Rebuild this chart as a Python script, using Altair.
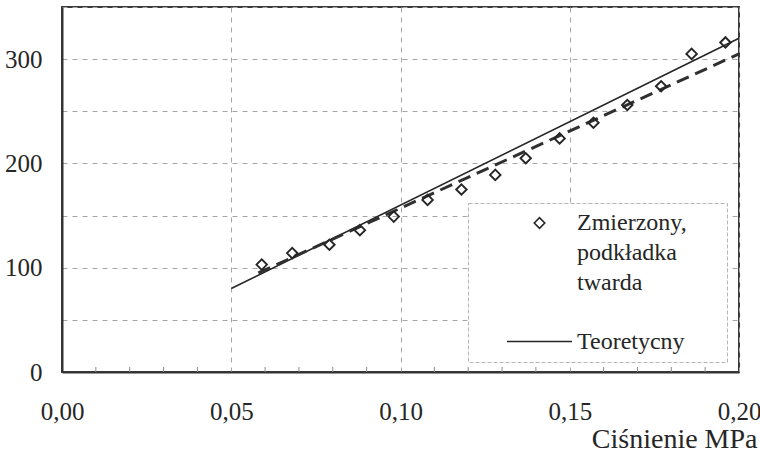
import altair as alt
import pandas as pd

# Measured deflection vs. pressure (hard pad)
pressure = [0.059, 0.068, 0.079, 0.088, 0.098, 0.108, 0.118, 0.128,
            0.137, 0.147, 0.157, 0.167, 0.177, 0.186, 0.196]
measured = [103, 114, 122, 136, 149, 165, 175, 189,
            205, 224, 239, 256, 274, 305, 316]

# Theoretical relation
theory_p = [0.05, 0.20]
theory_v = [80, 320]

# Trend of the measured series (dashed)
trend_p = [0.058, 0.20]
trend_v = [95, 305]

# Minor ticks along the pressure axis
minor_ticks = [0.01, 0.02, 0.03, 0.04, 0.06, 0.07, 0.08, 0.09,
               0.11, 0.12, 0.13, 0.14, 0.16, 0.17, 0.18, 0.19]

# Legend entries ("|" separates label lines; no-break spaces closed by a
# zero-width space keep the legend box wide, since labels get trimmed)
SERIES_MEASURED = "Zmierzony,|podkładka" + "\u00a0" * 7 + "\u200b|twarda"
SERIES_THEORY = "Teoretycny"

FONT = "Times New Roman, Liberation Serif, DejaVu Serif, serif"
INK = "#262626"

meas_df = pd.DataFrame({"p": pressure, "v": measured, "series": SERIES_MEASURED})
theory_df = pd.DataFrame({"p": theory_p, "v": theory_v})
trend_df = pd.DataFrame({"p": trend_p, "v": trend_v})
ticks_df = pd.DataFrame({"p": minor_ticks})

x_scale = alt.Scale(domain=[0, 0.20], nice=False, zero=False)
y_scale = alt.Scale(domain=[0, 350], nice=False)

x_axis = alt.Axis(
    values=[0, 0.05, 0.10, 0.15, 0.20],
    labelExpr="replace(format(datum.value, '.2f'), '.', ',')",
    title="Ciśnienie MPa",
    titleAnchor="end",
    titleAlign="right",
    titleBaseline="alphabetic",
    titleX=695,
    titleY=75,
    titleFontSize=28,
    titleFontWeight="normal",
    titleFont=FONT,
    titleColor=INK,
    labelPadding=27,
    labelFlush=False,
    labelOverlap=False,
    ticks=False,
    tickSize=0,
)

y_axis = alt.Axis(
    values=[0, 50, 100, 150, 200, 250, 300, 350],
    labelExpr="datum.value % 100 == 0 ? datum.label : ''",
    title="",
    labelPadding=20,
    labelOverlap=False,
    ticks=False,
    tickSize=0,
)

x_enc = alt.X("p:Q", scale=x_scale, axis=x_axis)
y_enc = alt.Y("v:Q", scale=y_scale, axis=y_axis)

minor = alt.Chart(ticks_df).mark_rule(color="#8a8a8a", strokeWidth=1).encode(
    x=alt.X("p:Q", scale=x_scale, axis=x_axis),
    y=alt.value(365),
    y2=alt.value(360),
)

theory = alt.Chart(theory_df).mark_line(color=INK, strokeWidth=1.6).encode(
    x=x_enc, y=y_enc
)

trend = alt.Chart(trend_df).mark_line(
    color="#303030", strokeWidth=3, strokeDash=[13, 7]
).encode(x=x_enc, y=y_enc)

legend = alt.Legend(
    title="",
    orient="none",
    legendX=406,
    legendY=196,
    labelExpr="split(datum.label, '|')",
)

points = alt.Chart(meas_df).mark_point(
    filled=False, color=INK, strokeWidth=1.9, opacity=1
).encode(
    x=x_enc,
    y=y_enc,
    shape=alt.Shape(
        "series:O",
        scale=alt.Scale(domain=[SERIES_MEASURED, SERIES_THEORY],
                        range=["diamond", "stroke"]),
        legend=legend,
    ),
    size=alt.Size(
        "series:O",
        scale=alt.Scale(domain=[SERIES_MEASURED, SERIES_THEORY],
                        range=[110, 4225]),
        legend=legend,
    ),
)

chart = alt.layer(minor, theory, trend, points).properties(
    width=677,
    height=365,
    autosize=alt.AutoSizeParams(type="none"),
    padding={"left": 62, "top": 7, "right": 21, "bottom": 80},
    background="white",
).configure(
    font=FONT,
    style={"guide-label": {"lineHeight": 30}},
).configure_view(
    stroke="#3a3a3a", strokeWidth=2
).configure_axis(
    labelFont=FONT,
    labelFontSize=25,
    labelColor=INK,
    domainColor="#333333",
    domainWidth=2,
    grid=True,
    gridColor="#a6a6a6",
    gridDash=[5, 5],
    gridWidth=1,
).configure_legend(
    labelFont=FONT,
    labelFontSize=24,
    labelColor=INK,
    padding=8,
    symbolOffset=30,
    labelOffset=4,
    rowPadding=13,
    strokeColor="#b5b5b5",
    strokeDash=[4, 2],
    fillColor="white",
    symbolStrokeColor=INK,
    symbolStrokeWidth=1.6,
)

chart.save("out.html", embed_options={"renderer": "svg", "actions": False})
